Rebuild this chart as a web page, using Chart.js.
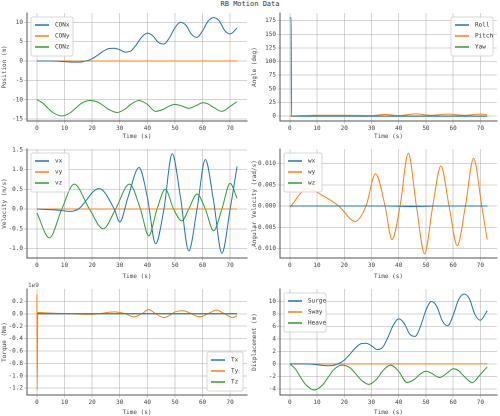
<!DOCTYPE html>
<html><head><meta charset="utf-8">
<script src="https://cdn.jsdelivr.net/npm/chart.js@4"></script>
<style>
body{margin:0;background:#fff;width:500px;height:416px;position:relative;overflow:hidden;font-family:'DejaVu Sans Mono',monospace}
canvas{position:absolute}
#title{position:absolute;top:0;left:0;width:500px;text-align:center;font-size:7px;color:#333}
#exp{position:absolute;left:28px;top:281px;font-size:6px;color:#555}
</style></head><body>
<div id="title">RB Motion Data</div>
<canvas id="c0"></canvas><canvas id="c1"></canvas><canvas id="c2"></canvas>
<canvas id="c3"></canvas><canvas id="c4"></canvas><canvas id="c5"></canvas>
<div id="exp">1e9</div>
<script>
// position
const conxT = [0,4,8,10,12,14,16,18,20,22,24,26,28,30,32,34,36,38,40,42,44,46,48,50,52,54,56,58,60,62,64,66,68,70,72.5];
const conxV = [0,0,-0.05,-0.15,-0.25,-0.3,-0.25,0.05,0.6,1.5,2.5,3.2,3.3,2.9,2.3,2.6,4.2,6.2,7.2,6.5,4.8,4.4,6.0,8.6,10.0,9.2,6.9,6.1,7.8,10.3,11.2,10.4,7.9,7.0,8.5];
const conzT = [0,2,4,6,9,12,14,16,19,22,24,26,29,32,34,37,40,43,46,48,50,52,55,58,60,62,64,67,70,72.5];
const conzV = [-10,-10.8,-12.2,-13.4,-14.2,-13.4,-12.2,-11.0,-10.2,-10.6,-11.5,-12.5,-13.3,-12.4,-11.2,-10.2,-11.2,-13.0,-12.4,-11.6,-11.2,-11.5,-12.2,-11.4,-10.8,-11.1,-12.0,-13.0,-11.7,-10.5];
const heaveV = [0,-0.8,-2.2,-3.4,-4.2,-3.4,-2.2,-1.0,-0.2,-0.6,-1.5,-2.5,-3.3,-2.4,-1.2,-0.2,-1.2,-3.0,-2.4,-1.6,-1.2,-1.5,-2.2,-1.4,-0.8,-1.1,-2.0,-3.0,-1.7,-0.5];
const flatT = [0,72.5];
const flatV = [0,0];
// angles
const rollT = [0,0.5,0.6,72.5];
const rollV = [180,180,0,0];
const pitchT = [0,10,20,30,35,40,46,52,58,64,70,72.5];
const pitchV = [0,1.5,1.5,1,3,1,4,1.5,3.5,1.5,3.5,3];
// velocity
const vxT = [0,8,12,15,22.5,28,30,33,37,40,43,46,49,52,55,58,61,64,67,70,72.5];
const vxV = [0,-0.03,-0.06,0,0.52,0,-0.33,0.3,1.05,0.3,-0.88,0,1.4,0.3,-1.06,0,1.25,0.2,-1.12,0,1.08];
const vzT = [0,4.5,9,13.5,19,24,28.5,33.5,37.5,40.5,43.5,46.5,49.5,52.5,55,58,61,64,67,70,72.5];
const vzV = [-0.1,-0.73,0,0.63,0,-0.5,0,0.63,0,-0.68,0,0.5,0,-0.3,0,0.38,0,-0.55,0,0.65,0.27];
// angular velocity
const wyT = [0,6.5,12,18,24,28,31.5,35,37.5,40.5,43.5,46.5,49.5,52.5,55.5,58.5,61.5,64.5,67.5,70.5,72.5];
const wyV = [-0.0003,0.0041,0.0025,0,-0.0036,0,0.0076,0,-0.0079,0,0.0124,0,-0.0112,0,0.0094,0,-0.0093,0,0.0112,0,-0.0079];
const wxT = [0,35,45,55,72.5];
const wxV = [0,0,-0.0001,0,0];
// torque (x1e9)
const tyT = [0,0.1,0.3,5,20,28,32,35,38,40.5,43,46,49,50,53,56,59,62,65,68,71,72.5];
const tyV = [0.32,-1.23,0.02,0.01,-0.01,0.03,0,-0.05,0,0.07,0,-0.06,0,0.03,0.05,0,-0.05,0,0.06,0,-0.06,-0.03];

// tick labels
const timeTicks = [0,10,20,30,40,50,60,70];
const posTicks = [-15,-10,-5,0,5,10];
const angTicks = [0,25,50,75,100,125,150,175];
const velTicks = [-1.0,-0.5,0.0,0.5,1.0,1.5];
const avTicks = [-0.010,-0.005,0.000,0.005,0.010];
const tqTicks = [-1.2,-1.0,-0.8,-0.6,-0.4,-0.2,0.0,0.2];
const dispTicks = [-4,-2,0,2,4,6,8,10];

const C = ['#1f77b4','#ff7f0e','#2ca02c'];
const F = {family:"'DejaVu Sans Mono', monospace", size:6};
const pts = (t,v) => t.map((x,i) => ({x, y:v[i]}));
const grid = {color:'rgba(176,176,176,0.55)', tickLength:3};

const legendBox = {
  id:'legendBox',
  afterDraw(chart, args, o){
    const {ctx, chartArea:a} = chart;
    const ds = chart.data.datasets;
    const w = o.w, h = ds.length*11+6;
    let x = o.pos.includes('right') ? a.right-w-4 : a.left+4;
    let y = o.pos.includes('bottom') ? a.bottom-h-4 : a.top+4;
    ctx.save();
    ctx.fillStyle='rgba(255,255,255,0.85)'; ctx.strokeStyle='#ccc'; ctx.lineWidth=0.8;
    ctx.beginPath(); ctx.roundRect(x,y,w,h,2); ctx.fill(); ctx.stroke();
    ctx.font="6px 'DejaVu Sans Mono', monospace"; ctx.textBaseline='middle';
    ds.forEach((d,i)=>{
      const yy=y+8+i*11;
      ctx.strokeStyle=d.borderColor; ctx.lineWidth=1.5;
      ctx.beginPath(); ctx.moveTo(x+4,yy); ctx.lineTo(x+18,yy); ctx.stroke();
      ctx.fillStyle='#333'; ctx.fillText(d.label,x+24,yy);
    });
    ctx.restore();
  }
};

function make(id, left, top, w, h, padTop, yw, xh, ds, y, legend){
  const cv = document.getElementById(id);
  cv.style.left=left+'px'; cv.style.top=top+'px';
  cv.style.width=w+'px'; cv.style.height=h+'px';
  new Chart(cv, {
    type:'line',
    data:{datasets: ds.map((d,i)=>({label:d[0], data:pts(d[1],d[2]), borderColor:C[i], backgroundColor:C[i],
      borderWidth:1, pointRadius:0, cubicInterpolationMode:'monotone'}))},
    options:{
      responsive:false, animation:false, devicePixelRatio:2,
      layout:{padding:{top:padTop, right:3, left:0, bottom:0}},
      plugins:{legend:{display:false}, tooltip:{enabled:false}, legendBox:legend},
      scales:{
        x:{type:'linear', min:-3.6, max:76.1, ticks:{font:F, color:'#444', maxRotation:0, padding:1},
           afterBuildTicks:s=>{s.ticks=timeTicks.map(v=>({value:v}));},
           grid, border:{color:'#555'},
           title:{display:true, text:'Time (s)', font:F, color:'#444', padding:0},
           afterFit:s=>{s.height=xh;}},
        y:{min:y.min, max:y.max, ticks:{font:F, color:'#444', padding:1, callback:y.cb},
           afterBuildTicks:s=>{s.ticks=y.ticks.map(v=>({value:v}));},
           grid, border:{color:'#555'},
           title:{display:true, text:y.title, font:F, color:'#444', padding:1},
           afterFit:s=>{s.width=yw;}}
      }
    },
    plugins:[legendBox]
  });
}

make('c0',0,0,250,140,13,27,19,
  [['CONx',conxT,conxV],['CONy',flatT,flatV],['CONz',conzT,conzV]],
  {min:-15.5,max:12.4,ticks:posTicks,title:'Position (m)'},{pos:'topleft',w:42});
make('c1',250,0,250,140,13,30,19,
  [['Roll',rollT,rollV],['Pitch',pitchT,pitchV],['Yaw',flatT,flatV]],
  {min:-9,max:189,ticks:angTicks,title:'Angle (deg)'},{pos:'topright',w:42});
make('c2',0,140,250,140,9,27,22,
  [['vx',vxT,vxV],['vy',flatT,flatV],['vz',vzT,vzV]],
  {min:-1.24,max:1.52,ticks:velTicks,title:'Velocity (m/s)',cb:v=>v.toFixed(1)},{pos:'topleft',w:38});
make('c3',250,140,250,140,9,30,22,
  [['wx',wxT,wxV],['wy',wyT,wyV],['wz',flatT,flatV]],
  {min:-0.0122,max:0.0134,ticks:avTicks,title:'Angular Velocity (rad/s)',cb:v=>v.toFixed(3)},{pos:'topleft',w:38});
make('c4',0,280,250,136,9,27,21,
  [['Tx',flatT,flatV],['Ty',tyT,tyV],['Tz',flatT,flatV]],
  {min:-1.31,max:0.4,ticks:tqTicks,title:'Torque (Nm)',cb:v=>v.toFixed(1)},{pos:'bottomright',w:36});
make('c5',250,280,250,136,9,30,21,
  [['Surge',conxT,conxV],['Sway',flatT,flatV],['Heave',conzT,heaveV]],
  {min:-5,max:12,ticks:dispTicks,title:'Displacement (m)'},{pos:'topleft',w:42});
</script></body></html>
